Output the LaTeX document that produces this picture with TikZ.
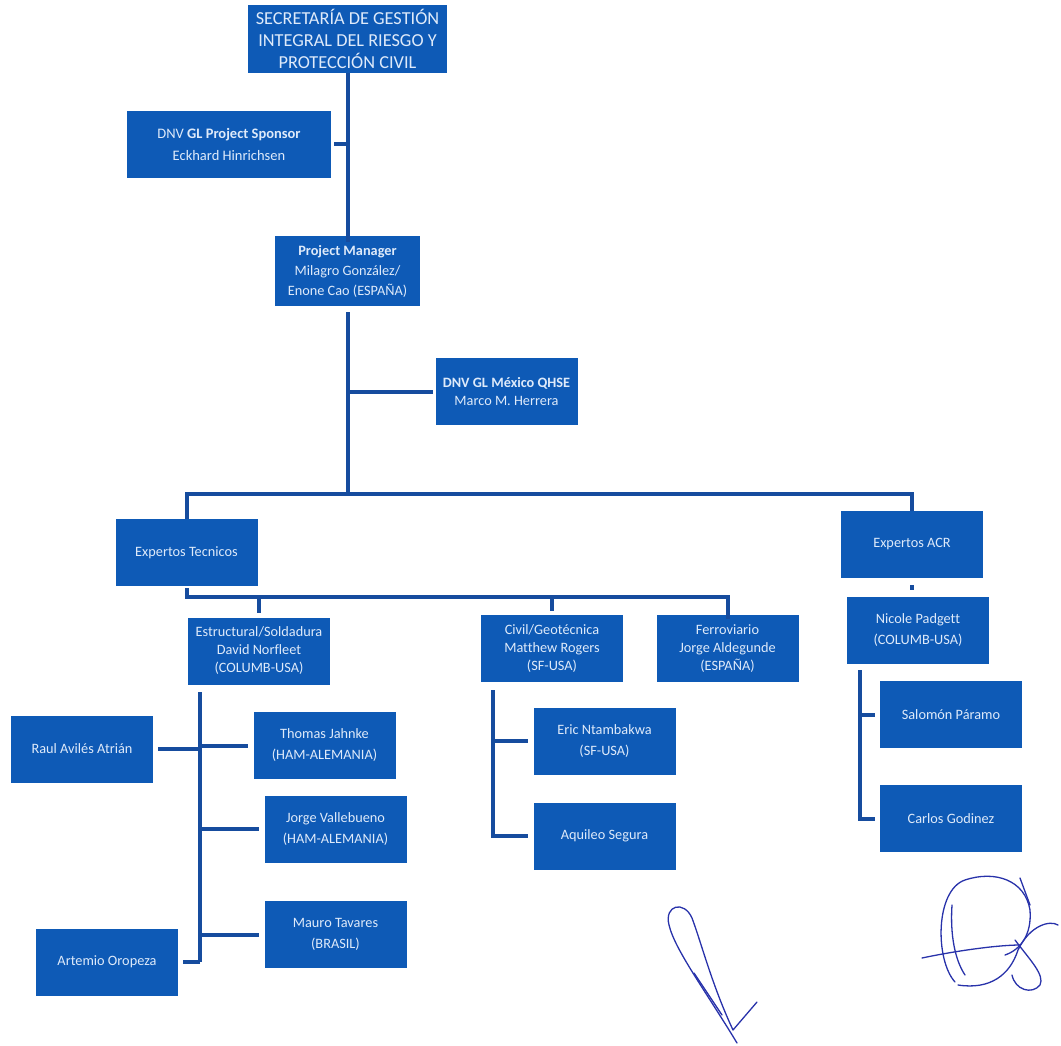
\documentclass[tikz,border=0pt]{standalone}
\usepackage{fontspec}
\setmainfont{Carlito}[Ligatures=NoCommon]
\definecolor{orgblue}{RGB}{14,90,182}
\definecolor{orgtext}{RGB}{222,234,250}
\definecolor{linkblue}{RGB}{22,76,158}
\definecolor{signblue}{RGB}{40,50,170}
\begin{document}
\begin{tikzpicture}[x=1pt, y=-1pt,
    box/.style={fill=orgblue, text=orgtext, minimum width=142pt, minimum height=67pt, inner sep=2pt, align=center, font=\fontsize{14.3}{18}\selectfont},
    link/.style={draw=linkblue, line width=4pt},
    sign/.style={draw=signblue, line width=1.3pt, line cap=round, line join=round}]
        \useasboundingbox (0,0) rectangle (1061,1046);

        % Top levels
        \node[box, minimum width=199pt, minimum height=68pt, font=\fontsize{18.3}{22}\selectfont] (sec) at (347.5, 39) {SECRETARÍA DE GESTIÓN\\INTEGRAL DEL RIESGO Y\\PROTECCIÓN CIVIL};
        \node[box, minimum width=204pt, font=\fontsize{14.5}{22}\selectfont] (sponsor) at (229, 144.5) {DNV \textbf{GL Project Sponsor}\\Eckhard Hinrichsen};
        \node[box, minimum width=145pt, minimum height=70pt, font=\fontsize{14.3}{20}\selectfont] (pm) at (347.5, 271) {\textbf{Project Manager}\\Milagro González/\\Enone Cao (ESPAÑA)};
        \node[box] (qhse) at (506.5, 391.5) {\textbf{DNV GL México QHSE}\\Marco M. Herrera};

        % Expert groups
        \node[box] (tec) at (186.5, 552.5) {Expertos Tecnicos};
        \node[box] (acr) at (912, 544.5) {Expertos ACR};

        % Technical areas
        \node[box] (estr) at (259, 651) {Estructural/Soldadura\\David Norfleet\\(COLUMB-USA)};
        \node[box] (civil) at (552, 648.5) {Civil/Geotécnica\\Matthew Rogers\\(SF-USA)};
        \node[box] (ferro) at (727.5, 648.5) {Ferroviario\\Jorge Aldegunde\\(ESPAÑA)};
        \node[box, font=\fontsize{14.3}{21}\selectfont] (nicole) at (918, 630.5) {Nicole Padgett\\(COLUMB-USA)};

        % Team members
        \node[box] (raul) at (82, 749) {Raul Avilés Atrián};
        \node[box, font=\fontsize{14.3}{21}\selectfont] (thomas) at (324.5, 745.5) {Thomas Jahnke\\(HAM-ALEMANIA)};
        \node[box, font=\fontsize{14.3}{21}\selectfont] (jorgev) at (335.5, 829) {Jorge Vallebueno\\(HAM-ALEMANIA)};
        \node[box, font=\fontsize{14.3}{21}\selectfont] (mauro) at (335.5, 934.5) {Mauro Tavares\\(BRASIL)};
        \node[box] (artemio) at (107, 962) {Artemio Oropeza};
        \node[box, font=\fontsize{14.3}{21}\selectfont] (eric) at (604.5, 741) {Eric Ntambakwa\\(SF-USA)};
        \node[box] (aquileo) at (604.5, 836) {Aquileo Segura};
        \node[box] (salomon) at (951, 714.5) {Salomón Páramo};
        \node[box] (carlos) at (951, 818.5) {Carlos Godinez};

        % Bus points
        \coordinate (split) at (347.5, 494);
        \coordinate (tecbus) at (186.5, 597);
        \coordinate (estrbus) at (200, 692);
        \coordinate (civilbus) at (493, 690);
        \coordinate (nicbus) at (860, 670);

        % Connections top levels
        \draw[link] (sec.south) -- ([yshift=-6pt]pm.north);
        \draw[link, shorten <=3pt] (sponsor.east) -- (sponsor.east -| sec.south);
        \draw[link, shorten <=6pt] (pm.south) -- (split);
        \draw[link, shorten >=2pt] (pm.south |- qhse.west) -- (qhse.west);
        \draw[link] (tec.north) |- (split) -| (acr.north);

        % Connections technical experts
        \draw[link, shorten <=2pt] (tec.south) -- (tecbus) -| ([yshift=-4pt]ferro.north);
        \foreach \n in {estr,civil} {
            \draw[link, shorten >=4pt] (\n.north |- tecbus) -- (\n.north);
        }
        \draw[link, shorten <=7pt, shorten >=7pt] (acr.south) -- (acr.south |- nicole.north);

        % Connections team members
        \draw[link] (estrbus) -- (estrbus |- artemio.east);
        \foreach \n in {thomas,jorgev,mauro} {
            \draw[link, shorten >=5pt] (estrbus |- \n.west) -- (\n.west);
        }
        \foreach \n in {raul,artemio} {
            \draw[link, shorten >=5pt] (estrbus |- \n.east) -- (\n.east);
        }
        \draw[link, shorten >=5pt] (civilbus) |- (aquileo.west);
        \draw[link, shorten >=5pt] (civilbus |- eric.west) -- (eric.west);
        \draw[link, shorten >=5pt] (nicbus) |- (carlos.west);
        \draw[link, shorten >=5pt] (nicbus |- salomon.west) -- (salomon.west);

        % Signatures
        \draw[sign] (737,1043) .. controls (705,990) and (675,950) .. (669,925)
            .. controls (664,905) and (684,900) .. (692,918)
            .. controls (702,945) and (712,985) .. (733,1030)
            -- (757,1002);
        \draw[sign] (694,973) -- (722,1015);
        \draw[sign] (955,982) .. controls (935,960) and (935,890) .. (965,880)
            .. controls (995,870) and (1025,880) .. (1030,910)
            .. controls (1032,935) and (1020,950) .. (1005,955);
        \draw[sign] (922,958) .. controls (960,950) and (1000,945) .. (1020,945);
        \draw[sign] (958,985) .. controls (990,990) and (1010,975) .. (1018,950)
            .. controls (1030,925) and (1050,920) .. (1058,925);
        \draw[sign] (1015,940) .. controls (1030,960) and (1045,975) .. (1040,985)
            .. controls (1032,995) and (1015,990) .. (1012,975);
        \draw[sign] (1020,878) -- (1030,905);
        \draw[sign] (952,905) .. controls (950,935) and (955,960) .. (965,975);
\end{tikzpicture}
\end{document}
